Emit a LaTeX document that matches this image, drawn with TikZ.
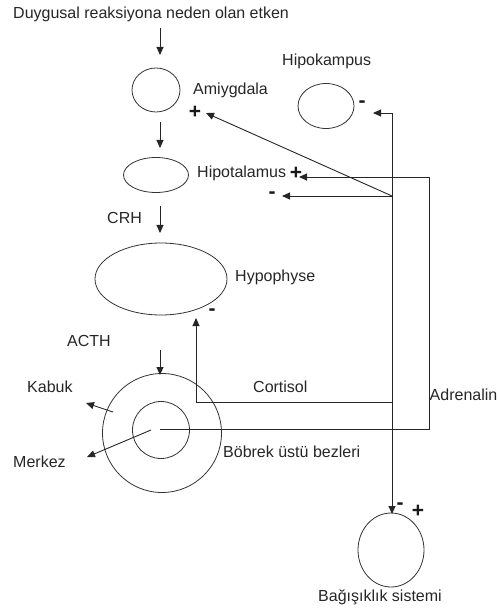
\documentclass[tikz,border=0pt]{standalone}
\usepackage{fontspec}
\setmainfont{Liberation Sans}
\usetikzlibrary{shapes.geometric,arrows.meta}
\begin{document}
\begin{tikzpicture}[x=1pt,y=-1pt,
  lbl/.style={anchor=base west,inner sep=0pt,font=\fontsize{16}{18}\selectfont,text=black!85},
  sign/.style={inner sep=0pt,font=\fontsize{21}{23}\selectfont\bfseries,text=black!90},
  organ/.style={ellipse,draw=black!80,line width=0.8pt,inner sep=0pt},
  conn/.style={draw=black!85,line width=0.9pt},
  arr/.style={conn,-{Triangle[length=8pt,width=7pt]}}]
\useasboundingbox (0,0) rectangle (498,609);
% organs
\node[organ,minimum width=48pt,minimum height=44pt] (amyg) at (156,90) {};
\node[organ,minimum width=56pt,minimum height=45pt] (hipok) at (326,106) {};
\node[organ,minimum width=65pt,minimum height=35pt] (hipot) at (156,175) {};
\node[organ,minimum width=132pt,minimum height=72pt] (hypo) at (161,279) {};
\node[organ,minimum width=119pt,minimum height=119pt] (outer) at (162,433) {};
\node[organ,minimum width=57pt,minimum height=57pt] (inner) at (161,430) {};
\node[organ,minimum width=66pt,minimum height=74pt] (immune) at (391,550) {};
% labels
\node[lbl] (title) at (13,19) {Duygusal reaksiyona neden olan etken};
\node[lbl] (thipok) at (282,66) {Hipokampus};
\node[lbl] (tamyg) at (193,95) {Amiygdala};
\node[lbl] (thipot) at (197,178) {Hipotalamus};
\node[lbl] (tcrh) at (107,224) {CRH};
\node[lbl] (thypo) at (235,281) {Hypophyse};
\node[lbl] (tacth) at (67,346) {ACTH};
\node[lbl] (tcort) at (253,392) {Cortisol};
\node[lbl] (tadr) at (429.5,400) {Adrenalin};
\node[lbl] (tkab) at (27,392) {Kabuk};
\node[lbl] (tmer) at (13,467) {Merkez};
\node[lbl] (tbob) at (223,457) {Böbrek üstü bezleri};
\node[lbl] (timm) at (318,601) {Bağışıklık sistemi};
% signs
\node[sign] (s1) at (195,112) {+};
\node[sign] (s2) at (362,104) {-};
\node[sign] (s3) at (296,173) {+};
\node[sign] (s4) at (272,195) {-};
\node[sign] (s5) at (212,312) {-};
\node[sign] (s6) at (400,506) {-};
\node[sign] (s7) at (418,511) {+};
% coordinates
\coordinate (a0) at (160,28);
\coordinate (a1) at (160,55);
\coordinate (b0) at (160,122);
\coordinate (b1) at (160,148);
\coordinate (c0) at (160,206);
\coordinate (c1) at (160,233);
\coordinate (d0) at (160,350);
\coordinate (d1) at (160,375);
\coordinate (cortA) at (392,402);
\coordinate (cortB) at (196,402);
\coordinate (cortT) at (196,318);
\coordinate (vtop) at (392,113);
\coordinate (vmid) at (392,196);
\coordinate (vbot) at (392,514);
\coordinate (hipT) at (373,113);
\coordinate (hypT) at (282,196);
\coordinate (amyT) at (206,113);
\coordinate (adrA) at (160,429);
\coordinate (adrB) at (429,429);
\coordinate (adrC) at (429,177);
\coordinate (adrT) at (299,177);
\coordinate (k0) at (113,412);
\coordinate (k1) at (86,403);
\coordinate (m0) at (151,430);
\coordinate (m1) at (87,457);
% connectors
\draw[arr] (a0) -- (a1);
\draw[arr] (b0) -- (b1);
\draw[arr] (c0) -- (c1);
\draw[arr] (d0) -- (d1);
\draw[arr] (cortA) -- (cortB) -- (cortT);
\draw[arr] (vtop) -- (vbot);
\draw[arr] (vtop) -- (hipT);
\draw[arr] (vmid) -- (hypT);
\draw[arr] (vmid) -- (amyT);
\draw[arr] (adrA) -- (adrB) -- (adrC) -- (adrT);
\draw[arr] (k0) -- (k1);
\draw[arr] (m0) -- (m1);
\end{tikzpicture}
\end{document}
